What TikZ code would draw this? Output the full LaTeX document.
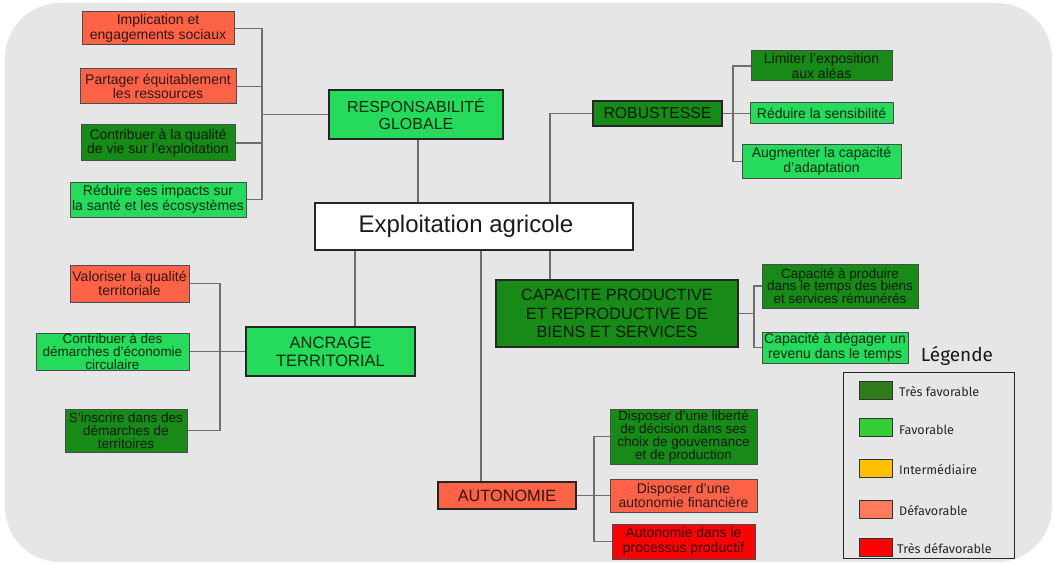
\documentclass[tikz,border=0pt]{standalone}
\usepackage{fontspec}
\setmainfont{Liberation Sans}
\newfontfamily\legfont{Fira Sans}
\definecolor{bgc}{HTML}{E6E6E6}
\definecolor{dg}{HTML}{178A17}
\definecolor{bgr}{HTML}{26DA5B}
\definecolor{tom}{HTML}{FF6347}
\definecolor{rd}{HTML}{FF0000}
\definecolor{ldg}{HTML}{2E7D1A}
\definecolor{lg}{HTML}{33CC33}
\definecolor{ly}{HTML}{FFC000}
\definecolor{lt}{HTML}{FF7B5C}
\definecolor{conc}{HTML}{6E6E6E}
\begin{document}
\begin{tikzpicture}[x=1pt,y=-1pt,
  sub/.style={draw=black!70, line width=1pt, align=center, inner sep=0pt, text=black, text opacity=0.8, font=\fontsize{14}{14.5}\selectfont},
  tight/.style={font=\fontsize{13.5}{12.8}\selectfont},
  mainbox/.style={draw=black!85, line width=1.6pt, align=center, inner sep=0pt, text=black, text opacity=0.8},
  conn/.style={draw=conc, line width=1.2pt},
  swatch/.style={draw=black!80, line width=0.8pt, minimum width=33pt, minimum height=18pt, inner sep=0pt},
  legtext/.style={anchor=west, inner sep=0pt, font=\legfont\fontsize{12.6}{13}\selectfont, text=black!85}
]
\useasboundingbox (0,0) rectangle (1056,564);
\fill[bgc, rounded corners=55pt] (5,3) rectangle (1052,562);

% Responsabilite
\node[sub, fill=tom, minimum width=152pt, minimum height=33pt] (r1) at (158,28.5) {Implication et\\engagements sociaux};
\node[sub, fill=tom, minimum width=156pt, minimum height=35pt] (r2) at (158,86.5) {Partager équitablement\\les ressources};
\node[sub, fill=dg, minimum width=154pt, minimum height=36pt] (r3) at (158,143) {Contribuer à la qualité\\de vie sur l'exploitation};
\node[sub, fill=bgr, minimum width=176pt, minimum height=35pt] (r4) at (158,199.5) {Réduire ses impacts sur\\la santé et les écosystèmes};
\node[mainbox, fill=bgr, minimum width=174pt, minimum height=49pt, font=\fontsize{16}{17}\selectfont] (resp) at (416,114.5) {RESPONSABILITÉ\\GLOBALE};

\node[mainbox, fill=white, minimum width=318pt, minimum height=47pt, font=\fontsize{24}{26}\selectfont, text opacity=0.9] (expl) at (474,226.5) {Exploitation agricole\hspace*{16pt}};

% Robustesse
\node[mainbox, fill=dg, minimum width=129pt, minimum height=25pt, font=\fontsize{15.8}{17}\selectfont] (rob) at (657.5,113.5) {ROBUSTESSE};
\node[sub, fill=dg, minimum width=141pt, minimum height=30pt] (rs1) at (821.5,66) {Limiter l'exposition\\aux aléas};
\node[sub, fill=bgr, minimum width=143pt, minimum height=21pt] (rs2) at (821.5,113.5) {Réduire la sensibilité};
\node[sub, fill=bgr, minimum width=159pt, minimum height=33pt] (rs3) at (821.5,161.5) {Augmenter la capacité\\d'adaptation};

% Capacite
\node[mainbox, fill=dg, minimum width=242pt, minimum height=67pt, font=\fontsize{16.3}{18.5}\selectfont] (cap) at (617,313.5) {CAPACITE PRODUCTIVE\\ET REPRODUCTIVE DE\\BIENS ET SERVICES};
\node[sub, tight, fill=dg, minimum width=156pt, minimum height=44pt] (cs1) at (840,286) {Capacité à produire\\dans le temps des biens\\et services rémunérés};
\node[sub, fill=bgr, minimum width=146pt, minimum height=31pt] (cs2) at (835,347.5) {Capacité à dégager un\\revenu dans le temps};

% Ancrage
\node[mainbox, fill=bgr, minimum width=169pt, minimum height=49pt, font=\fontsize{16.5}{18}\selectfont] (anc) at (330.5,351.5) {ANCRAGE\\TERRITORIAL};
\node[sub, fill=tom, minimum width=119pt, minimum height=37pt] (a1) at (129.5,283.5) {Valoriser la qualité\\territoriale};
\node[sub, tight, fill=bgr, minimum width=153pt, minimum height=37pt] (a2) at (112.5,351.5) {Contribuer à des\\démarches d'économie\\circulaire};
\node[sub, tight, fill=dg, minimum width=122pt, minimum height=43pt] (a3) at (126,430.5) {S'inscrire dans des\\démarches de\\territoires};

% Autonomie
\node[mainbox, fill=tom, minimum width=138pt, minimum height=27pt, font=\fontsize{16.3}{18}\selectfont] (auto) at (507,495.5) {AUTONOMIE};
\node[sub, tight, fill=dg, minimum width=147pt, minimum height=55pt] (o1) at (683.5,436.5) {Disposer d'une liberté\\de décision dans ses\\choix de gouvernance\\et de production};
\node[sub, fill=tom, minimum width=147pt, minimum height=33pt] (o2) at (683.5,495.5) {Disposer d'une\\autonomie financière};
\node[sub, fill=rd, minimum width=143pt, minimum height=35pt] (o3) at (683.5,541.5) {Autonomie dans le\\processus productif};

% connector coordinates
\coordinate (rb) at (262,114.5);
\coordinate (xr) at (550,0);
\coordinate (xl) at (418,0);
\coordinate (xa) at (355,0);
\coordinate (xo) at (481,0);
\coordinate (robb) at (733,113.5);
\coordinate (cb) at (754,313.5);
\coordinate (ab) at (220,351.5);
\coordinate (ob) at (594,495.5);

\draw[conn] (r1.east) -| (rb);
\draw[conn] (r2.east) -| (rb);
\draw[conn] (r3.east) -| (rb);
\draw[conn] (r4.east) -| (rb);
\draw[conn] (rb) -- (resp.west);
\draw[conn] (resp.south -| xl) -- (expl.north -| xl);
\draw[conn] (expl.north -| xr) |- (rob.west);
\draw[conn] (rob.east) -- (rs2.west);
\draw[conn] (rs1.west) -| (robb);
\draw[conn] (rs3.west) -| (robb);
\draw[conn] (expl.south -| xr) -- (cap.north -| xr);
\draw[conn] (cap.east) -- (cb);
\draw[conn] (cs1.west) -| (cb);
\draw[conn] (cs2.west) -| (cb);
\draw[conn] (expl.south -| xa) -- (anc.north -| xa);
\draw[conn] (a2.east) -- (anc.west);
\draw[conn] (a1.east) -| (ab);
\draw[conn] (a3.east) -| (ab);
\draw[conn] (expl.south -| xo) -- (auto.north -| xo);
\draw[conn] (auto.east) -- (o2.west);
\draw[conn] (o1.west) -| (ob);
\draw[conn] (o3.west) -| (ob);

% Legend
\node[font=\legfont\fontsize{19}{21}\selectfont, text=black!90, inner sep=0pt] (legtitle) at (957,356) {Légende};
\node[draw=black!85, line width=0.8pt, minimum width=171pt, minimum height=186pt, inner sep=0pt] (legbox) at (928.5,465) {};
\node[swatch, fill=ldg] (s1) at (875.5,390) {};
\node[swatch, fill=lg] (s2) at (875.5,427.5) {};
\node[swatch, fill=ly] (s3) at (875.5,468) {};
\node[swatch, fill=lt] (s4) at (875.5,509) {};
\node[swatch, fill=rd] (s5) at (875.5,547) {};
\node[legtext] (t1) at (899,392) {Très favorable};
\node[legtext] (t2) at (899,430) {Favorable};
\node[legtext] (t3) at (899,470) {Intermédiaire};
\node[legtext] (t4) at (899,511) {Défavorable};
\node[legtext] (t5) at (897,549) {Très défavorable};
\end{tikzpicture}
\end{document}
